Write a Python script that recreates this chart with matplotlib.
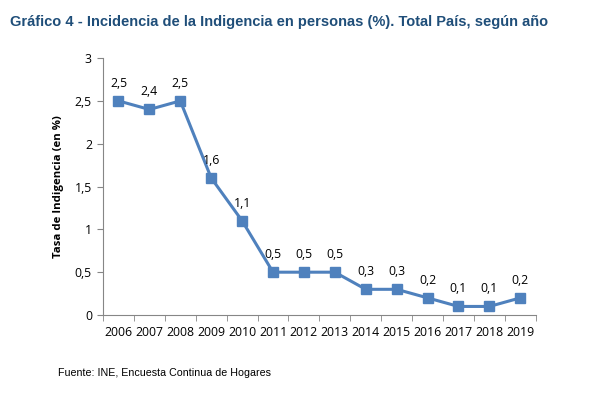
import numpy as np
import matplotlib
matplotlib.use("Agg")
import matplotlib.pyplot as plt

years = [2006, 2007, 2008, 2009, 2010, 2011, 2012, 2013, 2014, 2015, 2016, 2017, 2018, 2019]
tasa = [2.5, 2.4, 2.5, 1.6, 1.1, 0.5, 0.5, 0.5, 0.3, 0.3, 0.2, 0.1, 0.1, 0.2]
yticks = [0, 0.5, 1, 1.5, 2, 2.5, 3]

title = "Gráfico 4 - Incidencia de la Indigencia en personas (%). Total País, según año"
ylabel = "Tasa de Indigencia (en %)"
source = "Fuente: INE, Encuesta Continua de Hogares"

def fmt(v):
    return (f"{v:g}").replace(".", ",")

fig = plt.figure(figsize=(5.92, 3.95), dpi=100)
ax = fig.add_axes([0.174, 0.2025, 0.731, 0.6505])

x = np.arange(len(years))
blue = "#4F81BD"
ax.plot(x, tasa, color=blue, lw=2.2, marker="s", ms=7, mfc=blue, mec=blue)
for xi, v in zip(x, tasa):
    ax.annotate(fmt(v), (xi, v), xytext=(0, 8), textcoords="offset points",
                ha="center", va="bottom", fontsize=8.8, family="Open Sans")

ax.set_xlim(-0.5, len(years) - 0.5)
ax.set_ylim(0, 3)
ax.set_yticks(yticks)
ax.set_yticklabels([fmt(t) for t in yticks], family="Open Sans", fontsize=8.8)
ax.set_xticks(x)
ax.set_xticklabels([str(y) for y in years], family="Open Sans", fontsize=8.8)
ax.set_xticks(np.arange(len(years) + 1) - 0.5, minor=True)
ax.tick_params(axis="x", which="major", length=0, pad=8)
ax.tick_params(axis="x", which="minor", length=4, color="#868686")
ax.tick_params(axis="y", length=4, color="#868686", pad=4)

for s in ("top", "right"):
    ax.spines[s].set_visible(False)
for s in ("left", "bottom"):
    ax.spines[s].set_color("#868686")
    ax.spines[s].set_linewidth(0.8)

ax.set_ylabel(ylabel, fontsize=8.2, fontweight="bold", family="Open Sans", labelpad=8)

fig.text(0.017, 0.945, title, fontsize=10.5, fontweight="bold", color="#1F4E79",
         family="Liberation Sans", va="center")
fig.text(0.098, 0.056, source, fontsize=7.7, family="Liberation Sans", va="center")

fig.savefig("out.png", dpi=100)
